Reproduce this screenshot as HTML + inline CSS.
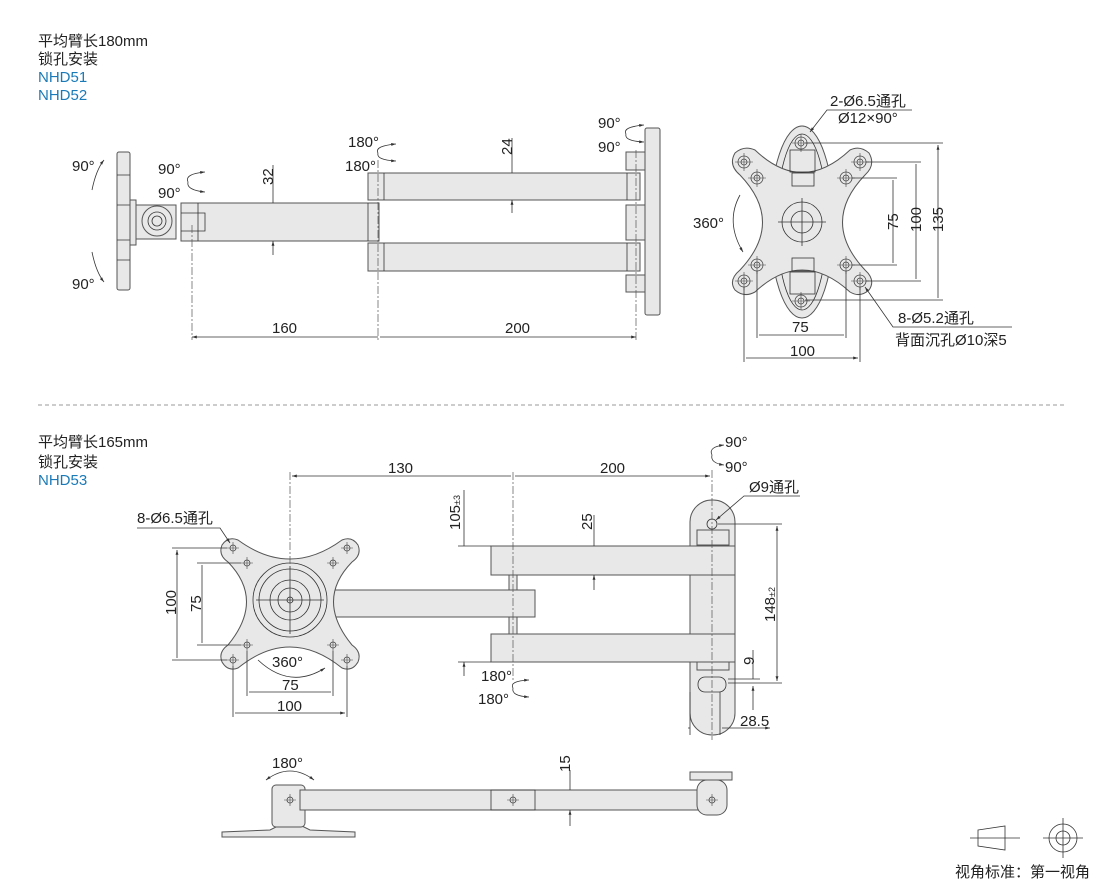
<!DOCTYPE html>
<html><head><meta charset="utf-8"><style>
body{margin:0;background:#fff;}
svg{display:block;font-family:"Liberation Sans","Noto Sans CJK SC",sans-serif;}
.p{fill:#e8e8e8;stroke:#555;stroke-width:1}
.l{stroke:#333;stroke-width:0.8;fill:none}
.c{stroke:#555;stroke-width:0.7;fill:none;stroke-dasharray:8 2 2 2}
text{font-size:15px;fill:#222}
.b{fill:#1a7ab8}
</style></head><body>
<svg width="1110" height="881" viewBox="0 0 1110 881">
<defs>
<marker id="a" viewBox="0 0 10 10" refX="10" refY="5" markerWidth="8" markerHeight="6" orient="auto-start-reverse"><path d="M0,2 L10,5 L0,8z" fill="#333"/></marker>
<g id="h"><circle r="6" fill="#e8e8e8" stroke="#444" stroke-width="0.8"/><circle r="3" fill="none" stroke="#444" stroke-width="0.8"/><path d="M-9,0H9M0,-9V9" stroke="#444" stroke-width="0.6"/></g>
<g id="s"><circle r="3" fill="none" stroke="#444" stroke-width="0.8"/><path d="M-6,0H6M0,-6V6" stroke="#444" stroke-width="0.6"/></g>
</defs>

<text x="38" y="46">平均臂长180mm</text>
<text x="38" y="64">锁孔安装</text>
<text x="38" y="82" class="b">NHD51</text>
<text x="38" y="100" class="b">NHD52</text>

<rect class="p" x="117" y="152" width="13" height="138" rx="2"/>
<path class="l" d="M117,175H130M117,205H130M117,240H130M117,260H130"/>
<rect class="p" x="130" y="200" width="6" height="45"/>
<rect class="p" x="136" y="205" width="40" height="34"/>
<circle class="p" cx="157" cy="221" r="15"/><circle class="l" cx="157" cy="221" r="9"/><circle class="l" cx="157" cy="221" r="5"/>
<rect class="p" x="181" y="203" width="198" height="38"/>
<path class="l" d="M181,213H205V231H181M198,203V241M368,203V241"/>
<rect class="p" x="368" y="173" width="272" height="27"/>
<rect class="p" x="368" y="243" width="272" height="28"/>
<path class="l" d="M384,173V200M384,243V271M627,173V200M627,243V271"/>
<rect class="p" x="626" y="152" width="19" height="18"/>
<rect class="p" x="626" y="205" width="19" height="35"/>
<rect class="p" x="626" y="275" width="19" height="17"/>
<rect class="p" x="645" y="128" width="15" height="187" rx="2"/>
<path class="c" d="M192,225V340M378,160V340M636,150V340"/>
<path class="l" d="M192,337H378M380,337H636" marker-start="url(#a)" marker-end="url(#a)"/>
<text x="272" y="333">160</text><text x="505" y="333">200</text>
<path class="l" d="M273,165V203M273,255V241" marker-end="url(#a)"/>
<text transform="translate(273,185) rotate(-90)">32</text>
<path class="l" d="M512,138V173M512,213V200" marker-end="url(#a)"/>
<text transform="translate(512,155) rotate(-90)">24</text>
<text x="72" y="171">90°</text><text x="72" y="289">90°</text>
<path class="l" d="M92,190Q96,170 104,160" marker-end="url(#a)"/><path class="l" d="M92,252Q96,272 104,282" marker-end="url(#a)"/>
<text x="158" y="174">90°</text><text x="158" y="198">90°</text>
<path class="l" d="M188,182Q184,174 205,172" marker-end="url(#a)"/><path class="l" d="M188,182Q186,190 205,192" marker-end="url(#a)"/>
<text x="348" y="147">180°</text><text x="345" y="171">180°</text>
<path class="l" d="M378,153Q374,146 396,144" marker-end="url(#a)"/><path class="l" d="M378,153Q376,160 396,161" marker-end="url(#a)"/>
<text x="598" y="128">90°</text><text x="598" y="152">90°</text>
<path class="l" d="M626,134Q622,127 644,125" marker-end="url(#a)"/><path class="l" d="M626,134Q624,141 644,142" marker-end="url(#a)"/>

<ellipse class="p" cx="802" cy="222" rx="32" ry="96"/>
<ellipse class="l" cx="802" cy="222" rx="25" ry="88"/>
<path class="p" d="M735,153 Q744,145 755,150 Q802,195 850,150 Q860,145 869,153 Q876,165 865,175 Q820,222 865,270 Q876,280 869,290 Q860,298 850,292 Q802,248 755,292 Q744,298 735,290 Q728,280 740,270 Q785,222 740,175 Q728,165 735,153Z"/>
<rect class="l" x="790" y="150" width="25" height="22"/><rect class="l" x="792" y="173" width="22" height="13"/>
<rect class="l" x="790" y="272" width="25" height="22"/><rect class="l" x="792" y="258" width="22" height="13"/>
<circle class="l" cx="802" cy="222" r="20"/><circle class="l" cx="802" cy="222" r="11"/>
<path class="l" d="M778,222H826M802,198V246"/>
<use href="#h" x="801" y="143"/><use href="#h" x="801" y="301"/>
<use href="#h" x="744" y="162"/><use href="#h" x="860" y="162"/><use href="#h" x="744" y="281"/><use href="#h" x="860" y="281"/>
<use href="#h" x="757" y="178"/><use href="#h" x="846" y="178"/><use href="#h" x="757" y="265"/><use href="#h" x="846" y="265"/>
<path class="l" d="M805,143H943M805,300H943M866,162H921M866,281H921M852,178H897M852,265H897M744,287V362M860,287V362M757,271V338M846,271V338"/>
<path class="l" d="M938,145V298M916,164V279M893,180V263M759,335H844M746,358H858" marker-start="url(#a)" marker-end="url(#a)"/>
<text transform="translate(943,232) rotate(-90)">135</text>
<text transform="translate(921,232) rotate(-90)">100</text>
<text transform="translate(898,230) rotate(-90)">75</text>
<text x="792" y="332">75</text><text x="790" y="356">100</text>
<text x="830" y="106">2-Ø6.5通孔</text><text x="838" y="123">Ø12×90°</text>
<path class="l" d="M912,110H827L810,132" marker-end="url(#a)"/>
<text x="898" y="323">8-Ø5.2通孔</text><text x="895" y="345">背面沉孔Ø10深5</text>
<path class="l" d="M1012,327H893L865,287" marker-end="url(#a)"/>
<text x="693" y="228">360°</text>
<path class="l" d="M740,195Q725,222 743,252" marker-end="url(#a)"/>

<path d="M38,405H1065" stroke="#999" stroke-width="1" stroke-dasharray="4 3"/>

<text x="38" y="447">平均臂长165mm</text>
<text x="38" y="467">锁孔安装</text>
<text x="38" y="485" class="b">NHD53</text>

<rect class="p" x="330" y="590" width="205" height="27"/>
<path class="p" d="M222,545 Q228,536 238,540 Q290,578 342,540 Q352,536 358,545 Q362,555 352,562 Q315,600 352,645 Q362,652 358,662 Q352,672 342,668 Q290,626 238,668 Q228,672 222,662 Q218,652 228,645 Q265,600 228,562 Q218,555 222,545Z"/>
<circle class="l" cx="290" cy="600" r="37"/><circle class="l" cx="290" cy="600" r="31"/><circle class="l" cx="290" cy="600" r="20"/><circle class="l" cx="290" cy="600" r="12"/><circle class="l" cx="290" cy="600" r="3"/>
<path class="l" d="M256,600H324M290,566V634"/>
<use href="#s" x="233" y="548"/><use href="#s" x="347" y="548"/><use href="#s" x="233" y="660"/><use href="#s" x="347" y="660"/>
<use href="#s" x="247" y="563"/><use href="#s" x="333" y="563"/><use href="#s" x="247" y="645"/><use href="#s" x="333" y="645"/>
<rect class="p" x="509" y="575" width="8" height="15"/><rect class="p" x="509" y="617" width="8" height="17"/>
<rect class="p" x="690" y="500" width="45" height="235" rx="22"/>
<rect class="p" x="697" y="530" width="32" height="15"/><rect class="p" x="697" y="662" width="32" height="8"/>
<rect class="p" x="491" y="546" width="244" height="29"/>
<rect class="p" x="491" y="634" width="244" height="28"/>
<rect class="l" x="698" y="677" width="28" height="15" rx="7"/>
<circle class="l" cx="712" cy="524" r="5"/>
<path class="c" d="M290,472V600M513,472V680M712,470V740"/>
<path class="l" d="M292,476H511M515,476H710" marker-start="url(#a)" marker-end="url(#a)"/>
<text x="388" y="473">130</text><text x="600" y="473">200</text>
<path class="l" d="M458,546H491M458,662H491"/>
<path class="l" d="M464,490V546M464,676V662" marker-end="url(#a)"/>
<text transform="translate(460,530) rotate(-90)">105<tspan font-size="9">±3</tspan></text>
<path class="l" d="M594,515V546M594,590V575" marker-end="url(#a)"/>
<text transform="translate(592,530) rotate(-90)">25</text>
<path class="l" d="M718,524H782M728,683H782M728,679H760"/>
<path class="l" d="M777,526V681" marker-start="url(#a)" marker-end="url(#a)"/>
<text transform="translate(775,622) rotate(-90)">148<tspan font-size="9">±2</tspan></text>
<path class="l" d="M753,650V679M753,710V686" marker-end="url(#a)"/>
<text transform="translate(754,665) rotate(-90)">9</text>
<path class="l" d="M690,692V735M720,692V735"/>
<path class="l" d="M688,728H690M722,728H770" marker-end="url(#a)"/>
<text x="740" y="726">28.5</text>
<text x="749" y="492">Ø9通孔</text>
<path class="l" d="M800,496H744L716,520" marker-end="url(#a)"/>
<text x="725" y="447">90°</text><text x="725" y="472">90°</text>
<path class="l" d="M712,455Q708,447 724,445" marker-end="url(#a)"/><path class="l" d="M712,455Q710,463 724,465" marker-end="url(#a)"/>
<text x="481" y="681">180°</text><text x="478" y="704">180°</text>
<path class="l" d="M513,688Q509,681 529,680" marker-end="url(#a)"/><path class="l" d="M513,688Q511,696 529,697" marker-end="url(#a)"/>
<text x="137" y="523">8-Ø6.5通孔</text>
<path class="l" d="M137,528H220L230,543" marker-end="url(#a)"/>
<path class="l" d="M172,548H227M172,660H227M197,563H241M197,645H241M233,666V717M347,666V717M247,651V696M333,651V696"/>
<path class="l" d="M177,550V658M202,565V643M249,692H331M235,713H345" marker-start="url(#a)" marker-end="url(#a)"/>
<text transform="translate(176,615) rotate(-90)">100</text>
<text transform="translate(201,612) rotate(-90)">75</text>
<text x="282" y="690">75</text><text x="277" y="711">100</text>
<text x="272" y="667">360°</text>
<path class="l" d="M258,660Q290,690 325,668" marker-end="url(#a)"/>

<path class="p" d="M222,837L355,837L355,832L310,830L300,825L280,825L270,830L222,832Z"/>
<rect class="p" x="272" y="785" width="33" height="42" rx="4"/>
<rect class="p" x="300" y="790" width="420" height="20"/>
<rect class="p" x="690" y="772" width="42" height="8"/>
<rect class="p" x="697" y="780" width="30" height="35" rx="10"/>
<rect class="l" x="491" y="790" width="44" height="20"/>
<use href="#s" x="290" y="800"/><use href="#s" x="513" y="800"/><use href="#s" x="712" y="800"/>
<path class="l" d="M570,770V790M570,826V810" marker-end="url(#a)"/>
<text transform="translate(570,772) rotate(-90)">15</text>
<text x="272" y="768">180°</text>
<path class="l" d="M266,780Q290,762 314,780" marker-start="url(#a)" marker-end="url(#a)"/>

<path class="l" d="M978,830L1005,826V850L978,846Z"/>
<path class="l" d="M970,838H1020"/>
<circle class="l" cx="1063" cy="838" r="14"/><circle class="l" cx="1063" cy="838" r="7"/>
<path class="l" d="M1043,838H1083M1063,818V858"/>
<text x="955" y="877">视角标准：第一视角</text>
</svg>
</body></html>
